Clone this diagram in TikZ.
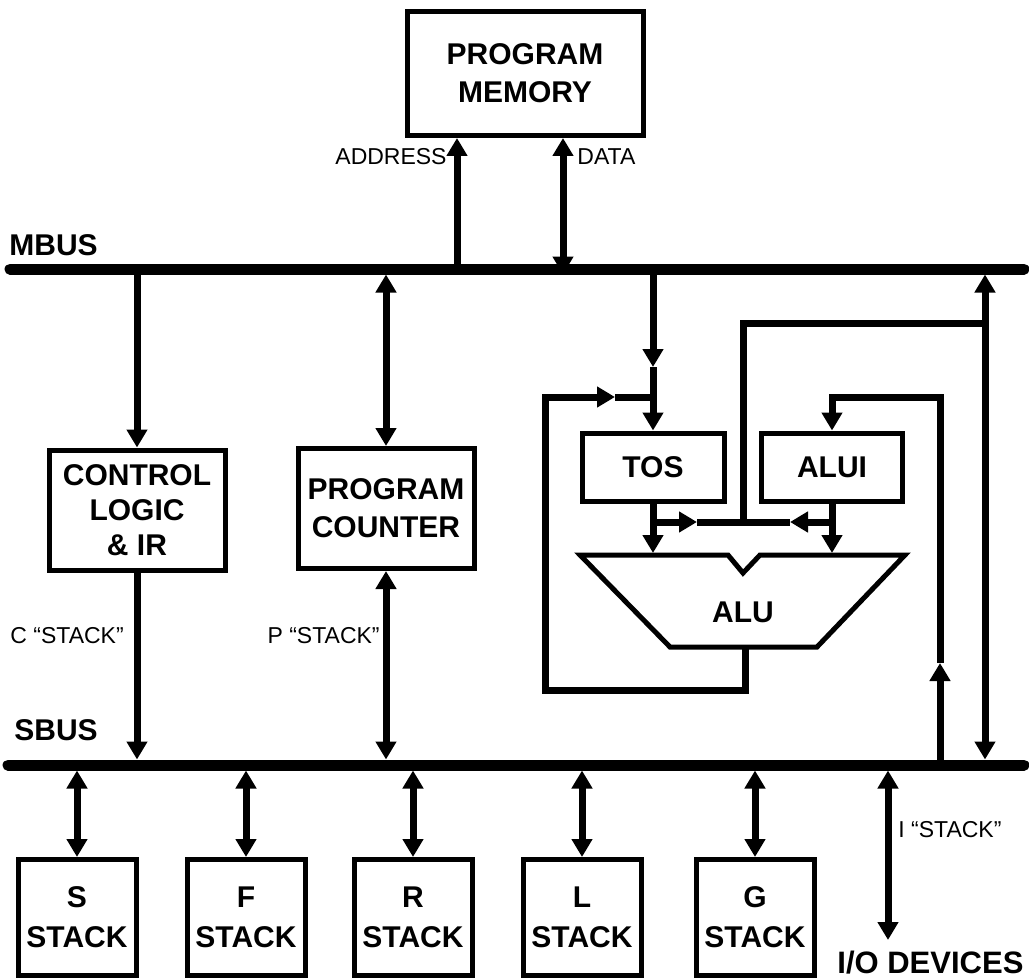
\documentclass[tikz,border=0pt]{standalone}
\usepackage{fontspec}
\setmainfont{Liberation Sans}
\usetikzlibrary{arrows.meta}

\begin{document}
\begin{tikzpicture}[
  x=0.5pt, y=-0.5pt,
  box/.style={rectangle, draw, line width=2.5pt, align=center, inner sep=0pt, font=\fontsize{15}{19}\selectfont\bfseries},
  stk/.style={box, minimum width=59pt, minimum height=58pt, font=\fontsize{15}{20}\selectfont\bfseries},
  bus/.style={line width=5.5pt, line cap=round},
  wire/.style={line width=3.5pt},
  arrow/.style={wire, -{Triangle[length=9pt,width=10pt]}},
  dbl/.style={wire, {Triangle[length=9pt,width=10pt]}-{Triangle[length=9pt,width=10pt]}},
  lbl/.style={inner sep=0pt, font=\fontsize{11.5}{14}\selectfont},
  buslbl/.style={inner sep=0pt, font=\fontsize{15}{19}\selectfont\bfseries}
]
  \useasboundingbox (0,0) rectangle (1029,979);

  \draw[bus] (10,269) -- (1024,269);
  \draw[bus] (8,765) -- (1024,765);
  \node[buslbl, anchor=base west] (mbus) at (9,256) {MBUS};
  \node[buslbl, anchor=base west] (sbus) at (14,740) {SBUS};

  \node[box, minimum width=118pt, minimum height=62pt] (mem) at (525,73.5) {PROGRAM\\MEMORY};
  \node[box, minimum width=88pt, minimum height=60pt, font=\fontsize{15}{17.5}\selectfont\bfseries] (ctrl) at (137,510) {CONTROL\\LOGIC\\\& IR};
  \node[box, minimum width=88pt, minimum height=60pt] (pc) at (386,508.5) {PROGRAM\\COUNTER};
  \node[box, minimum width=71pt, minimum height=34pt] (tos) at (653,467) {TOS};
  \node[box, minimum width=70.5pt, minimum height=34pt] (alui) at (832,467) {ALUI};

  \draw[line width=2.5pt] (580,555) -- (728,555) -- (743,573) -- (760,555) -- (905,555) -- (817,647) -- (670,647) -- cycle;
  \node[buslbl] (alu) at (743,612) {ALU};

  \coordinate (mA) at (457,269);
  \coordinate (mD) at (563,274.5);
  \draw[arrow] (mA) -- (mA |- mem.south);
  \draw[dbl] (mD |- mem.south) -- (mD);
  \node[lbl, anchor=base east] (addr) at (447,165) {ADDRESS};
  \node[lbl, anchor=base west] (data) at (577,165) {DATA};

  \coordinate (mC) at (137,269);
  \coordinate (sC) at (137,759.5);
  \draw[arrow] (mC) -- (ctrl.north);
  \draw[arrow] (ctrl.south) -- (sC);
  \node[lbl, anchor=base west] (cst) at (10,643) {C “STACK”};

  \coordinate (mP) at (386,274.5);
  \coordinate (sP) at (386,759.5);
  \draw[dbl] (mP) -- (pc.north);
  \draw[dbl] (pc.south) -- (sP);
  \node[lbl, anchor=base east] (pst) at (380,643) {P “STACK”};

  \coordinate (mT) at (653,269);
  \coordinate (tosJ) at (653,367);
  \draw[arrow] (mT) -- (tosJ);
  \draw[arrow] (tosJ) -- (tos.north);

  \coordinate (aluOut) at (745,647);
  \coordinate (fbA) at (615,397);
  \coordinate (fbJ) at (653,397);
  \draw[arrow] (aluOut) -- (745,690) -- (545,690) -- (545,397) -- (fbA);
  \draw[wire] (fbA) -- (fbJ);

  \coordinate (aluA) at (653,553);
  \coordinate (aluB) at (832,553);
  \draw[arrow] (tos.south) -- (aluA);
  \draw[arrow] (alui.south) -- (aluB);

  \coordinate (xL) at (653,522);
  \coordinate (xA) at (697,522);
  \coordinate (xM) at (743,522);
  \coordinate (xB) at (790,522);
  \coordinate (xR) at (832,522);
  \draw[arrow] (xL) -- (xA);
  \draw[wire] (xA) -- (xB);
  \draw[arrow] (xR) -- (xB);

  \coordinate (rJ) at (985,323);
  \coordinate (mR) at (985,274.5);
  \coordinate (sR) at (985,759.5);
  \draw[wire] (xM) -- (743,323) -- (rJ);
  \draw[dbl] (sR) -- (mR);

  \coordinate (sAl) at (940,765);
  \coordinate (alJ) at (940,663);
  \draw[arrow] (sAl) -- (alJ);
  \draw[arrow] (alJ) -- (940,397) -- (832,397) -- (alui.north);

  \foreach \nm/\x in {S/77,F/246,R/413,L/582,G/755} {
    \node[stk] (\nm) at (\x,917.5) {\nm\\STACK};
    \coordinate (s\nm) at (\x,770.5);
    \draw[dbl] (s\nm) -- (\nm.north);
  }

  \coordinate (sIO) at (888,770.5);
  \coordinate (io) at (888,940);
  \draw[dbl] (sIO) -- (io);
  \node[lbl, anchor=base west] (ist) at (898,837) {I “STACK”};
  \node[buslbl, anchor=base west, font=\fontsize{15.5}{19}\selectfont\bfseries] (iodev) at (837,973) {I/O DEVICES};
\end{tikzpicture}
\end{document}
